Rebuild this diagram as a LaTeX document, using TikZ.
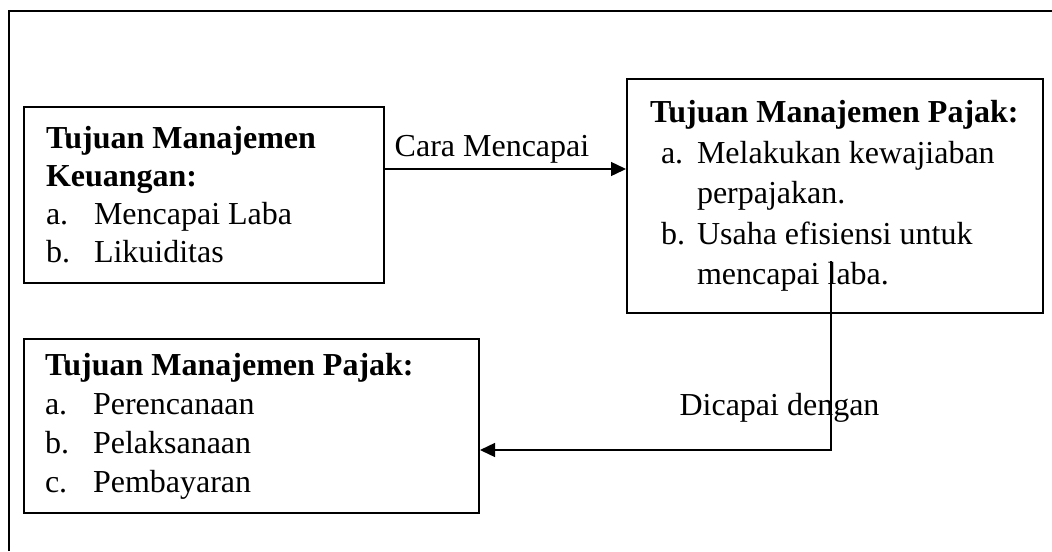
\documentclass[tikz,border=0pt]{standalone}
\usepackage{fontspec}
\setmainfont{Liberation Serif}
\usepackage{tikz}
\usetikzlibrary{arrows.meta}

\begin{document}
\begin{tikzpicture}[
  x = 0.5pt, y = -0.5pt,
  kotak/.style = {draw, line width = 1pt, align = flush left, inner ysep = 0pt,
                  font = \fontsize{16}{19}\selectfont},
  panah/.style = {line width = 0.7pt, -{Triangle[length = 7.5pt, width = 7pt]}},
  teks/.style = {font = \fontsize{16}{19}\selectfont}
  ]
  \useasboundingbox (0,0) rectangle (1052,551);
  \draw[line width = 0.7pt] (9,551) -- (9,11) -- (1052,11);

  \node[kotak, minimum width = 180pt, minimum height = 88pt,
        inner xsep = 11pt, text width = 158pt] (keuangan) at (204,195)
       {\textbf{Tujuan Manajemen}\\
        \textbf{Keuangan:}\\
        \makebox[24pt][l]{a.}Mencapai Laba\\
        \makebox[24pt][l]{b.}Likuiditas};
  \node[kotak, minimum width = 208pt, minimum height = 117pt,
        inner xsep = 11.5pt, text width = 185pt,
        font = \fontsize{16}{20.25}\selectfont] (pajakatas) at (835,196)
       {\mbox{\textbf{Tujuan Manajemen Pajak:}}\\
        \hspace*{5.5pt}\makebox[18pt][l]{a.}Melakukan kewajiaban\\
        \hspace*{23.5pt}perpajakan.\\
        \hspace*{5.5pt}\makebox[18pt][l]{b.}Usaha efisiensi untuk\\
        \hspace*{23.5pt}mencapai laba.};
  \node[kotak, minimum width = 227.5pt, minimum height = 87pt,
        inner xsep = 10.5pt, text width = 206.5pt,
        font = \fontsize{16}{19.5}\selectfont] (pajakbawah) at (251.5,426)
       {\textbf{Tujuan Manajemen Pajak:}\\
        \makebox[24pt][l]{a.}Perencanaan\\
        \makebox[24pt][l]{b.}Pelaksanaan\\
        \makebox[24pt][l]{c.}Pembayaran};

  \draw[panah] ([yshift = 13pt]keuangan.east) -- ([yshift = 13pt]keuangan.east -| pajakatas.west)
    node[teks, pos = 0, anchor = south west, inner xsep = 4.5pt, inner ysep = 2.5pt] (cara) {Cara Mencapai};
  \coordinate (turun) at ([xshift = -2pt, yshift = 26.5pt]pajakatas.south);
  \draw[panah] (turun) |- ([yshift = -12pt]pajakbawah.east)
    node[teks, pos = 0.5, anchor = base, xshift = -25.75pt, yshift = 17.5pt] (dicapai) {Dicapai dengan};
\end{tikzpicture}
\end{document}
